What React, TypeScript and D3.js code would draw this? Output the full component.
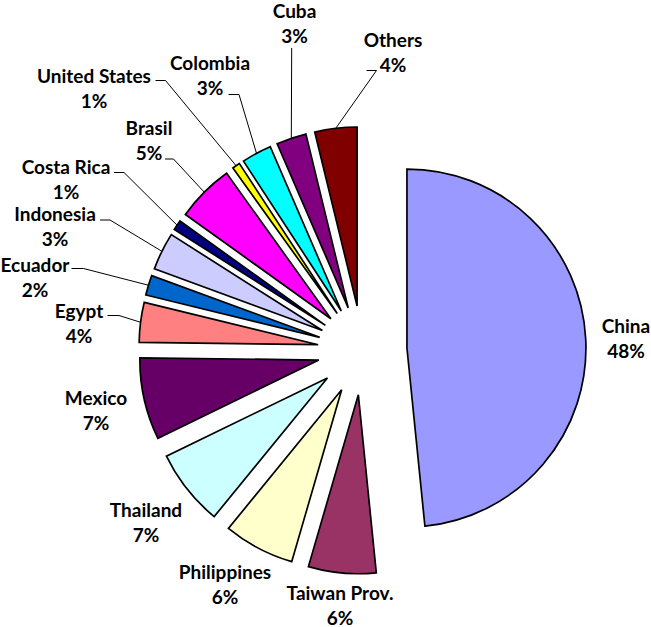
import React from "react";
import * as d3 from "d3";

const countries = [
  "China", "Taiwan Prov.", "Philippines", "Thailand", "Mexico", "Egypt", "Ecuador",
  "Indonesia", "Costa Rica", "Brasil", "United States", "Colombia", "Cuba", "Others",
];
const shares = [48.4, 6.1, 6.4, 6.9, 7.4, 3.6, 1.8, 3.4, 0.9, 5.2, 0.7, 2.7, 2.7, 3.8];
const colors = [
  "#9999FF", "#993366", "#FFFFCC", "#CCFFFF", "#660066", "#FF8080", "#0066CC",
  "#CCCCFF", "#000080", "#FF00FF", "#FFFF00", "#00FFFF", "#800080", "#800000",
];

// layout: label centre (first line) and optional elbow of leader line
const labelLayout: { x: number; y: number; elbow?: [number, number][] }[] = [
  { x: 626, y: 325 },
  { x: 340, y: 592.5 },
  { x: 225, y: 571 },
  { x: 146, y: 509 },
  { x: 96, y: 397.5 },
  { x: 79, y: 310.5, elbow: [[107.5, 315.5], [119, 315.5]] },
  { x: 35, y: 264, elbow: [[71.5, 268.5], [83.5, 268.5]] },
  { x: 55, y: 213, elbow: [[100, 220], [110, 220]] },
  { x: 66, y: 166.5, elbow: [[114, 172.5], [124, 172.5]] },
  { x: 149, y: 127.5, elbow: [[165, 159], [173.5, 159]] },
  { x: 94, y: 75, elbow: [[155.5, 80.5], [165.5, 80.5]] },
  { x: 210, y: 62, elbow: [[228.5, 94.5], [239, 94.5]] },
  { x: 294.5, y: 10.5, elbow: [[291.7, 48]] },
  { x: 393, y: 39.5, elbow: [[366.5, 70.5], [376.5, 70.5]] },
];

const W = 651;
const H = 627;
const CX = 362.4;
const CY = 350.3;
const R = 179;
const EXPLODE = 44.6;

export default function App() {
  const total = d3.sum(shares);
  const pie = d3
    .pie<number>()
    .sort(null)
    .value((d) => d)
    .startAngle(0)
    .endAngle(2 * Math.PI);
  const arcs = pie(shares);
  const arc = d3.arc<d3.PieArcDatum<number>>().innerRadius(0).outerRadius(R);

  const font = "Lato, 'Open Sans', sans-serif";

  return (
    <svg
      width={W}
      height={H}
      style={{ position: "absolute", left: 0, top: 0, background: "#fff" }}
    >
      <rect x={0} y={0} width={W} height={H} fill="#fff" />
      {arcs.map((a, i) => {
        const mid = (a.startAngle + a.endAngle) / 2;
        const ox = CX + EXPLODE * Math.sin(mid);
        const oy = CY - EXPLODE * Math.cos(mid);
        return (
          <path
            key={"s" + i}
            d={arc(a) || ""}
            transform={`translate(${ox},${oy})`}
            fill={colors[i]}
            stroke="#000"
            strokeWidth={1.7}
            strokeLinejoin="miter"
          />
        );
      })}
      {arcs.map((a, i) => {
        const L = labelLayout[i];
        if (!L.elbow) return null;
        const mid = (a.startAngle + a.endAngle) / 2;
        const ox = CX + (EXPLODE + R) * Math.sin(mid);
        const oy = CY - (EXPLODE + R) * Math.cos(mid);
        const pts: [number, number][] = [...L.elbow, [ox, oy]];
        const line = d3.line()(pts) || "";
        return <path key={"l" + i} d={line} fill="none" stroke="#000" strokeWidth={1} />;
      })}
      {arcs.map((a, i) => {
        const L = labelLayout[i];
        const pct = Math.round((a.data / total) * 100) + "%";
        return (
          <g key={"t" + i} fontFamily={font} fontWeight={700} fontSize={19} fill="#000" textAnchor="middle">
            <text x={L.x} y={L.y} dominantBaseline="central">
              {countries[i]}
            </text>
            <text x={L.x} y={L.y + 25} dominantBaseline="central">
              {pct}
            </text>
          </g>
        );
      })}
    </svg>
  );
}
